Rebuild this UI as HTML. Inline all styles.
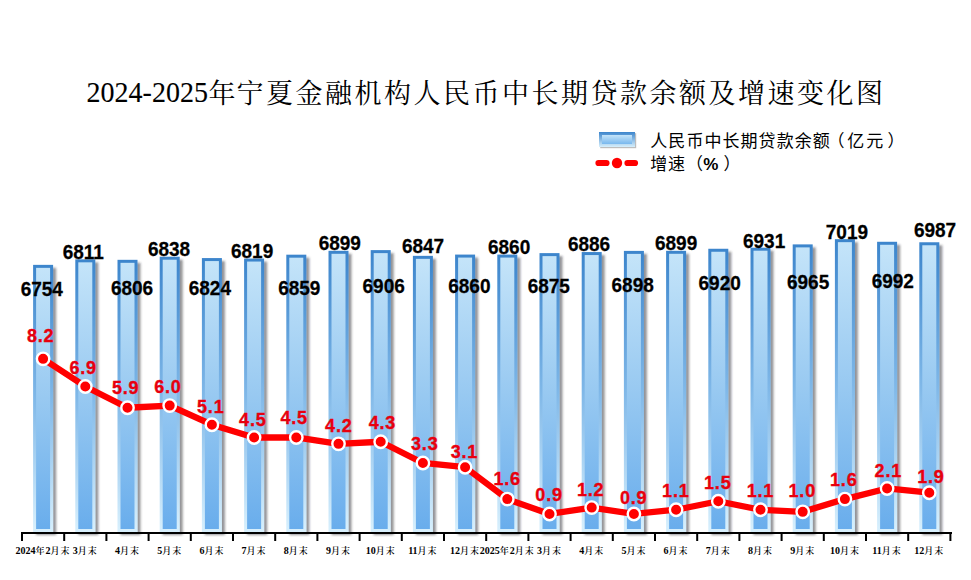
<!DOCTYPE html>
<html><head><meta charset="utf-8"><title>2024-2025年宁夏金融机构人民币中长期贷款余额及增速变化图</title>
<style>
html,body{margin:0;padding:0;background:#fff;}
body{width:971px;height:580px;overflow:hidden;}
svg{display:block;}
.bl{font-family:"Liberation Sans",Arial,sans-serif;font-weight:bold;font-size:19px;fill:#000;stroke:#000;stroke-width:0.25px;}
.rl{font-family:"Liberation Sans",Arial,sans-serif;font-weight:bold;font-size:18px;fill:#e8000e;letter-spacing:0.8px;stroke:#e8000e;stroke-width:0.35px;}
.xl{font-family:"Liberation Serif","Noto Serif CJK SC",serif;font-weight:bold;font-size:10px;fill:#000;}
.xc{font-weight:600;font-size:9px;letter-spacing:1px;}
.td{font-family:"Liberation Serif",serif;font-size:28px;fill:#000;stroke:#000;stroke-width:0.1px;}
.tt{font-family:"Noto Serif CJK SC",serif;font-weight:400;font-size:27px;fill:#000;}
.lg{font-family:"Liberation Sans","Noto Sans CJK SC",sans-serif;font-size:17px;fill:#000;}
</style></head><body>
<svg width="971" height="580" viewBox="0 0 971 580">
<defs>
<linearGradient id="gb" x1="0" y1="0" x2="0" y2="1">
<stop offset="0" stop-color="#3c85cc"/><stop offset="0.5" stop-color="#80b8e8"/><stop offset="1" stop-color="#d8f0fd"/>
</linearGradient>
<linearGradient id="gf" x1="0" y1="0" x2="0" y2="1">
<stop offset="0" stop-color="#c4e4f9"/><stop offset="0.5" stop-color="#98c9f1"/><stop offset="1" stop-color="#69adec"/>
</linearGradient>
<filter id="sh" x="-30%" y="-10%" width="170%" height="120%">
<feDropShadow dx="3" dy="3" stdDeviation="1.3" flood-color="#2a2a30" flood-opacity="0.5"/>
</filter>
<filter id="sh2" x="-20%" y="-30%" width="140%" height="170%">
<feDropShadow dx="1.2" dy="1.2" stdDeviation="0.6" flood-color="#404040" flood-opacity="0.35"/>
</filter>
<linearGradient id="lgb" x1="0" y1="0" x2="0" y2="1">
<stop offset="0" stop-color="#3c85cc"/><stop offset="1" stop-color="#d6effc"/>
</linearGradient>
<linearGradient id="lgf" x1="0" y1="0" x2="0" y2="1">
<stop offset="0" stop-color="#c4e4f9"/><stop offset="1" stop-color="#79b8ee"/>
</linearGradient>
</defs>
<text class="td" transform="translate(86.6 101.7) scale(1 1.07)" x="0" y="0">2024-2025</text>
<text class="tt" y="102.5" x="208.6 236.6 266.1 295.6 325.1 354.6 384.1 413.6 443.1 472.6 502.1 531.6 561.1 590.6 620.1 649.6 679.1 708.6 738.1 767.6 797.1 826.6 856.1">年宁夏金融机构人民币中长期贷款余额及增速变化图</text>
<g filter="url(#sh2)"><rect x="599" y="132" width="36" height="15" fill="url(#lgb)"/></g>
<rect x="602" y="135" width="30" height="9" fill="url(#lgf)"/>
<line x1="598.5" y1="163" x2="606.5" y2="163" stroke="#f00" stroke-width="6.2" stroke-linecap="round"/>
<line x1="627.5" y1="163" x2="635" y2="163" stroke="#f00" stroke-width="6.2" stroke-linecap="round"/>
<circle cx="617" cy="163" r="5.2" fill="#f00"/>
<text class="lg" y="146.8" x="650.30 668.35 686.40 704.45 722.50 740.55 758.60 776.65 794.70 812.75">人民币中长期贷款余额</text>
<text class="lg" y="146.8" x="827.4 847.3 866.2 887.6">（亿元）</text>
<text class="lg" y="170" x="650.3 668.1 685.9">增速（</text>
<text class="lg" y="170" x="703.2" font-weight="bold">%</text>
<text class="lg" y="170" x="723.5">）</text>
<g filter="url(#sh)">
<rect x="33.10" y="264.86" width="20" height="267.14" fill="url(#gb)"/>
<rect x="75.30" y="259.33" width="20" height="272.67" fill="url(#gb)"/>
<rect x="117.50" y="259.82" width="20" height="272.18" fill="url(#gb)"/>
<rect x="159.70" y="256.71" width="20" height="275.29" fill="url(#gb)"/>
<rect x="201.90" y="258.07" width="20" height="273.93" fill="url(#gb)"/>
<rect x="244.10" y="258.56" width="20" height="273.44" fill="url(#gb)"/>
<rect x="286.30" y="254.68" width="20" height="277.32" fill="url(#gb)"/>
<rect x="328.50" y="250.80" width="20" height="281.20" fill="url(#gb)"/>
<rect x="370.70" y="250.12" width="20" height="281.88" fill="url(#gb)"/>
<rect x="412.90" y="255.84" width="20" height="276.16" fill="url(#gb)"/>
<rect x="455.10" y="254.58" width="20" height="277.42" fill="url(#gb)"/>
<rect x="497.30" y="254.58" width="20" height="277.42" fill="url(#gb)"/>
<rect x="539.50" y="253.12" width="20" height="278.88" fill="url(#gb)"/>
<rect x="581.70" y="252.06" width="20" height="279.94" fill="url(#gb)"/>
<rect x="623.90" y="250.89" width="20" height="281.11" fill="url(#gb)"/>
<rect x="666.10" y="250.80" width="20" height="281.20" fill="url(#gb)"/>
<rect x="708.30" y="248.76" width="20" height="283.24" fill="url(#gb)"/>
<rect x="750.50" y="247.69" width="20" height="284.31" fill="url(#gb)"/>
<rect x="792.70" y="244.39" width="20" height="287.61" fill="url(#gb)"/>
<rect x="834.90" y="239.16" width="20" height="292.84" fill="url(#gb)"/>
<rect x="877.10" y="241.78" width="20" height="290.22" fill="url(#gb)"/>
<rect x="919.30" y="242.26" width="20" height="289.74" fill="url(#gb)"/>
</g>
<rect x="36.10" y="267.86" width="14" height="261.14" fill="url(#gf)"/>
<rect x="78.30" y="262.33" width="14" height="266.67" fill="url(#gf)"/>
<rect x="120.50" y="262.82" width="14" height="266.18" fill="url(#gf)"/>
<rect x="162.70" y="259.71" width="14" height="269.29" fill="url(#gf)"/>
<rect x="204.90" y="261.07" width="14" height="267.93" fill="url(#gf)"/>
<rect x="247.10" y="261.56" width="14" height="267.44" fill="url(#gf)"/>
<rect x="289.30" y="257.68" width="14" height="271.32" fill="url(#gf)"/>
<rect x="331.50" y="253.80" width="14" height="275.20" fill="url(#gf)"/>
<rect x="373.70" y="253.12" width="14" height="275.88" fill="url(#gf)"/>
<rect x="415.90" y="258.84" width="14" height="270.16" fill="url(#gf)"/>
<rect x="458.10" y="257.58" width="14" height="271.42" fill="url(#gf)"/>
<rect x="500.30" y="257.58" width="14" height="271.42" fill="url(#gf)"/>
<rect x="542.50" y="256.12" width="14" height="272.88" fill="url(#gf)"/>
<rect x="584.70" y="255.06" width="14" height="273.94" fill="url(#gf)"/>
<rect x="626.90" y="253.89" width="14" height="275.11" fill="url(#gf)"/>
<rect x="669.10" y="253.80" width="14" height="275.20" fill="url(#gf)"/>
<rect x="711.30" y="251.76" width="14" height="277.24" fill="url(#gf)"/>
<rect x="753.50" y="250.69" width="14" height="278.31" fill="url(#gf)"/>
<rect x="795.70" y="247.39" width="14" height="281.61" fill="url(#gf)"/>
<rect x="837.90" y="242.16" width="14" height="286.84" fill="url(#gf)"/>
<rect x="880.10" y="244.78" width="14" height="284.22" fill="url(#gf)"/>
<rect x="922.30" y="245.26" width="14" height="283.74" fill="url(#gf)"/>
<rect x="21" y="532" width="931" height="2" fill="#000"/>
<rect x="21.00" y="532" width="2" height="9" fill="#000"/>
<rect x="63.20" y="532" width="2" height="9" fill="#000"/>
<rect x="105.40" y="532" width="2" height="9" fill="#000"/>
<rect x="147.60" y="532" width="2" height="9" fill="#000"/>
<rect x="189.80" y="532" width="2" height="9" fill="#000"/>
<rect x="232.00" y="532" width="2" height="9" fill="#000"/>
<rect x="274.20" y="532" width="2" height="9" fill="#000"/>
<rect x="316.40" y="532" width="2" height="9" fill="#000"/>
<rect x="358.60" y="532" width="2" height="9" fill="#000"/>
<rect x="400.80" y="532" width="2" height="9" fill="#000"/>
<rect x="443.00" y="532" width="2" height="9" fill="#000"/>
<rect x="485.20" y="532" width="2" height="9" fill="#000"/>
<rect x="527.40" y="532" width="2" height="9" fill="#000"/>
<rect x="569.60" y="532" width="2" height="9" fill="#000"/>
<rect x="611.80" y="532" width="2" height="9" fill="#000"/>
<rect x="654.00" y="532" width="2" height="9" fill="#000"/>
<rect x="696.20" y="532" width="2" height="9" fill="#000"/>
<rect x="738.40" y="532" width="2" height="9" fill="#000"/>
<rect x="780.60" y="532" width="2" height="9" fill="#000"/>
<rect x="822.80" y="532" width="2" height="9" fill="#000"/>
<rect x="865.00" y="532" width="2" height="9" fill="#000"/>
<rect x="907.20" y="532" width="2" height="9" fill="#000"/>
<rect x="949.40" y="532" width="2" height="9" fill="#000"/>
<text class="xl" x="43.10" y="554" text-anchor="middle">2024<tspan class="xc">年</tspan>2<tspan class="xc">月末</tspan></text>
<text class="xl" x="85.30" y="554" text-anchor="middle">3<tspan class="xc">月末</tspan></text>
<text class="xl" x="127.50" y="554" text-anchor="middle">4<tspan class="xc">月末</tspan></text>
<text class="xl" x="169.70" y="554" text-anchor="middle">5<tspan class="xc">月末</tspan></text>
<text class="xl" x="211.90" y="554" text-anchor="middle">6<tspan class="xc">月末</tspan></text>
<text class="xl" x="254.10" y="554" text-anchor="middle">7<tspan class="xc">月末</tspan></text>
<text class="xl" x="296.30" y="554" text-anchor="middle">8<tspan class="xc">月末</tspan></text>
<text class="xl" x="338.50" y="554" text-anchor="middle">9<tspan class="xc">月末</tspan></text>
<text class="xl" x="380.70" y="554" text-anchor="middle">10<tspan class="xc">月末</tspan></text>
<text class="xl" x="422.90" y="554" text-anchor="middle">11<tspan class="xc">月末</tspan></text>
<text class="xl" x="465.10" y="554" text-anchor="middle">12<tspan class="xc">月末</tspan></text>
<text class="xl" x="507.30" y="554" text-anchor="middle">2025<tspan class="xc">年</tspan>2<tspan class="xc">月末</tspan></text>
<text class="xl" x="549.50" y="554" text-anchor="middle">3<tspan class="xc">月末</tspan></text>
<text class="xl" x="591.70" y="554" text-anchor="middle">4<tspan class="xc">月末</tspan></text>
<text class="xl" x="633.90" y="554" text-anchor="middle">5<tspan class="xc">月末</tspan></text>
<text class="xl" x="676.10" y="554" text-anchor="middle">6<tspan class="xc">月末</tspan></text>
<text class="xl" x="718.30" y="554" text-anchor="middle">7<tspan class="xc">月末</tspan></text>
<text class="xl" x="760.50" y="554" text-anchor="middle">8<tspan class="xc">月末</tspan></text>
<text class="xl" x="802.70" y="554" text-anchor="middle">9<tspan class="xc">月末</tspan></text>
<text class="xl" x="844.90" y="554" text-anchor="middle">10<tspan class="xc">月末</tspan></text>
<text class="xl" x="887.10" y="554" text-anchor="middle">11<tspan class="xc">月末</tspan></text>
<text class="xl" x="929.30" y="554" text-anchor="middle">12<tspan class="xc">月末</tspan></text>
<text class="bl" transform="translate(41.75 296.40) scale(1 1.05)" text-anchor="middle">6754</text>
<text class="bl" transform="translate(83.30 259.30) scale(1 1.05)" text-anchor="middle">6811</text>
<text class="bl" transform="translate(132.00 294.90) scale(1 1.05)" text-anchor="middle">6806</text>
<text class="bl" transform="translate(169.05 256.00) scale(1 1.05)" text-anchor="middle">6838</text>
<text class="bl" transform="translate(209.85 294.80) scale(1 1.05)" text-anchor="middle">6824</text>
<text class="bl" transform="translate(252.10 258.00) scale(1 1.05)" text-anchor="middle">6819</text>
<text class="bl" transform="translate(299.25 294.60) scale(1 1.05)" text-anchor="middle">6859</text>
<text class="bl" transform="translate(339.80 250.00) scale(1 1.05)" text-anchor="middle">6899</text>
<text class="bl" transform="translate(383.65 292.70) scale(1 1.05)" text-anchor="middle">6906</text>
<text class="bl" transform="translate(423.05 252.60) scale(1 1.05)" text-anchor="middle">6847</text>
<text class="bl" transform="translate(469.35 292.80) scale(1 1.05)" text-anchor="middle">6860</text>
<text class="bl" transform="translate(509.10 253.90) scale(1 1.05)" text-anchor="middle">6860</text>
<text class="bl" transform="translate(548.80 292.60) scale(1 1.05)" text-anchor="middle">6875</text>
<text class="bl" transform="translate(589.05 251.20) scale(1 1.05)" text-anchor="middle">6886</text>
<text class="bl" transform="translate(632.65 292.10) scale(1 1.05)" text-anchor="middle">6898</text>
<text class="bl" transform="translate(676.10 250.10) scale(1 1.05)" text-anchor="middle">6899</text>
<text class="bl" transform="translate(719.65 289.60) scale(1 1.05)" text-anchor="middle">6920</text>
<text class="bl" transform="translate(764.10 247.60) scale(1 1.05)" text-anchor="middle">6931</text>
<text class="bl" transform="translate(808.10 288.70) scale(1 1.05)" text-anchor="middle">6965</text>
<text class="bl" transform="translate(846.90 238.70) scale(1 1.05)" text-anchor="middle">7019</text>
<text class="bl" transform="translate(892.75 287.50) scale(1 1.05)" text-anchor="middle">6992</text>
<text class="bl" transform="translate(935.00 237.40) scale(1 1.05)" text-anchor="middle">6987</text>
<polyline points="43.10,358.85 85.30,386.48 127.50,407.73 169.70,405.60 211.90,424.73 254.10,437.48 296.30,437.48 338.50,443.85 380.70,441.73 422.90,462.98 465.10,467.23 507.30,499.10 549.50,513.98 591.70,507.60 633.90,513.98 676.10,509.73 718.30,501.23 760.50,509.73 802.70,511.85 844.90,499.10 887.10,488.48 929.30,492.73" fill="none" stroke="#f00" stroke-width="6.3" stroke-linejoin="round" stroke-linecap="round"/>
<circle cx="43.10" cy="358.85" r="6.2" fill="#f00" stroke="#fff" stroke-width="2.4"/>
<circle cx="85.30" cy="386.48" r="6.2" fill="#f00" stroke="#fff" stroke-width="2.4"/>
<circle cx="127.50" cy="407.73" r="6.2" fill="#f00" stroke="#fff" stroke-width="2.4"/>
<circle cx="169.70" cy="405.60" r="6.2" fill="#f00" stroke="#fff" stroke-width="2.4"/>
<circle cx="211.90" cy="424.73" r="6.2" fill="#f00" stroke="#fff" stroke-width="2.4"/>
<circle cx="254.10" cy="437.48" r="6.2" fill="#f00" stroke="#fff" stroke-width="2.4"/>
<circle cx="296.30" cy="437.48" r="6.2" fill="#f00" stroke="#fff" stroke-width="2.4"/>
<circle cx="338.50" cy="443.85" r="6.2" fill="#f00" stroke="#fff" stroke-width="2.4"/>
<circle cx="380.70" cy="441.73" r="6.2" fill="#f00" stroke="#fff" stroke-width="2.4"/>
<circle cx="422.90" cy="462.98" r="6.2" fill="#f00" stroke="#fff" stroke-width="2.4"/>
<circle cx="465.10" cy="467.23" r="6.2" fill="#f00" stroke="#fff" stroke-width="2.4"/>
<circle cx="507.30" cy="499.10" r="6.2" fill="#f00" stroke="#fff" stroke-width="2.4"/>
<circle cx="549.50" cy="513.98" r="6.2" fill="#f00" stroke="#fff" stroke-width="2.4"/>
<circle cx="591.70" cy="507.60" r="6.2" fill="#f00" stroke="#fff" stroke-width="2.4"/>
<circle cx="633.90" cy="513.98" r="6.2" fill="#f00" stroke="#fff" stroke-width="2.4"/>
<circle cx="676.10" cy="509.73" r="6.2" fill="#f00" stroke="#fff" stroke-width="2.4"/>
<circle cx="718.30" cy="501.23" r="6.2" fill="#f00" stroke="#fff" stroke-width="2.4"/>
<circle cx="760.50" cy="509.73" r="6.2" fill="#f00" stroke="#fff" stroke-width="2.4"/>
<circle cx="802.70" cy="511.85" r="6.2" fill="#f00" stroke="#fff" stroke-width="2.4"/>
<circle cx="844.90" cy="499.10" r="6.2" fill="#f00" stroke="#fff" stroke-width="2.4"/>
<circle cx="887.10" cy="488.48" r="6.2" fill="#f00" stroke="#fff" stroke-width="2.4"/>
<circle cx="929.30" cy="492.73" r="6.2" fill="#f00" stroke="#fff" stroke-width="2.4"/>
<text class="rl" transform="translate(40.65 342.40) scale(1 1.05)" text-anchor="middle">8.2</text>
<text class="rl" transform="translate(83.10 374.10) scale(1 1.05)" text-anchor="middle">6.9</text>
<text class="rl" transform="translate(125.65 393.80) scale(1 1.05)" text-anchor="middle">5.9</text>
<text class="rl" transform="translate(167.90 392.60) scale(1 1.05)" text-anchor="middle">6.0</text>
<text class="rl" transform="translate(210.75 413.40) scale(1 1.05)" text-anchor="middle">5.1</text>
<text class="rl" transform="translate(252.80 425.80) scale(1 1.05)" text-anchor="middle">4.5</text>
<text class="rl" transform="translate(294.20 423.90) scale(1 1.05)" text-anchor="middle">4.5</text>
<text class="rl" transform="translate(338.80 431.80) scale(1 1.05)" text-anchor="middle">4.2</text>
<text class="rl" transform="translate(382.40 429.10) scale(1 1.05)" text-anchor="middle">4.3</text>
<text class="rl" transform="translate(424.75 449.60) scale(1 1.05)" text-anchor="middle">3.3</text>
<text class="rl" transform="translate(464.45 457.80) scale(1 1.05)" text-anchor="middle">3.1</text>
<text class="rl" transform="translate(507.15 485.00) scale(1 1.05)" text-anchor="middle">1.6</text>
<text class="rl" transform="translate(549.05 500.90) scale(1 1.05)" text-anchor="middle">0.9</text>
<text class="rl" transform="translate(590.70 495.60) scale(1 1.05)" text-anchor="middle">1.2</text>
<text class="rl" transform="translate(633.60 503.60) scale(1 1.05)" text-anchor="middle">0.9</text>
<text class="rl" transform="translate(675.80 497.30) scale(1 1.05)" text-anchor="middle">1.1</text>
<text class="rl" transform="translate(717.75 489.40) scale(1 1.05)" text-anchor="middle">1.5</text>
<text class="rl" transform="translate(760.40 497.00) scale(1 1.05)" text-anchor="middle">1.1</text>
<text class="rl" transform="translate(802.25 497.20) scale(1 1.05)" text-anchor="middle">1.0</text>
<text class="rl" transform="translate(843.75 486.00) scale(1 1.05)" text-anchor="middle">1.6</text>
<text class="rl" transform="translate(888.30 477.10) scale(1 1.05)" text-anchor="middle">2.1</text>
<text class="rl" transform="translate(930.95 483.20) scale(1 1.05)" text-anchor="middle">1.9</text>
</svg></body></html>
